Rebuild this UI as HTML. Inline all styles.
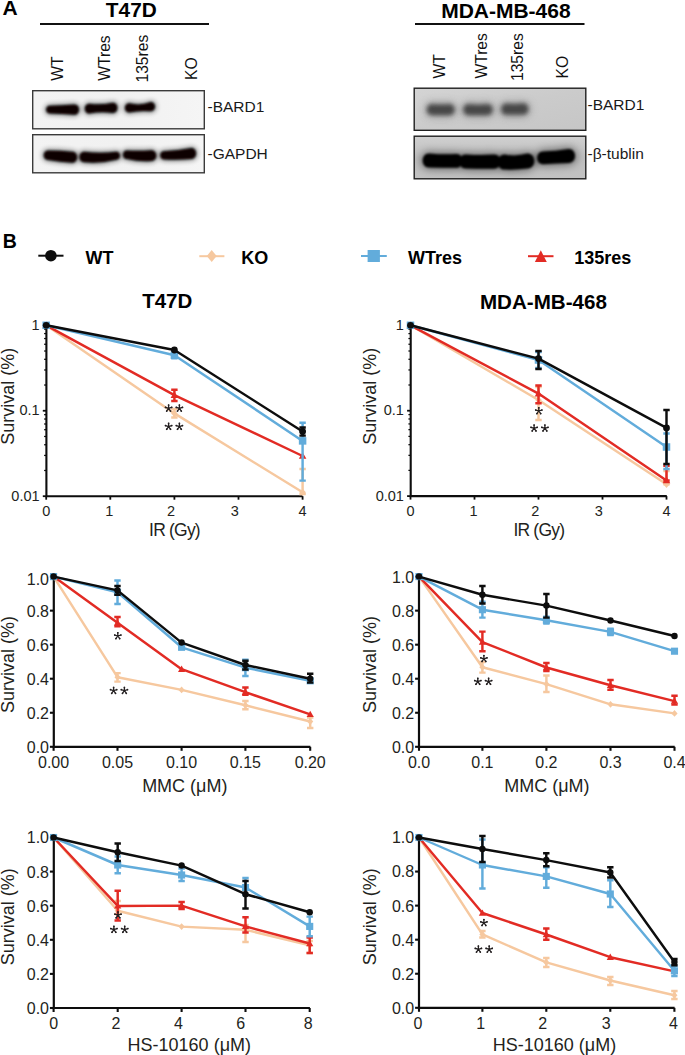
<!DOCTYPE html>
<html><head><meta charset="utf-8"><style>
html,body{margin:0;padding:0;background:#fff;}
body{width:685px;height:1055px;overflow:hidden;}
svg{display:block;font-family:"Liberation Sans",sans-serif;}
</style></head><body>
<svg width="685" height="1055" viewBox="0 0 685 1055">
<rect width="685" height="1055" fill="#fff"/>
<text x="2.5" y="14.7" font-size="21" text-anchor="start" font-weight="bold" fill="#000" >A</text>
<text x="131.3" y="17.3" font-size="20.8" text-anchor="middle" font-weight="bold" fill="#000" >T47D</text>
<line x1="40" y1="24" x2="209" y2="24" stroke="#111" stroke-width="2"/>
<text x="505.9" y="17.5" font-size="21" text-anchor="middle" font-weight="bold" fill="#000" >MDA-MB-468</text>
<line x1="415" y1="24" x2="584.5" y2="24" stroke="#111" stroke-width="2"/>
<text transform="translate(62.8,80.7) rotate(-90)" font-size="15.6" text-anchor="start" font-weight="normal" fill="#111" >WT</text>
<text transform="translate(110.2,80.7) rotate(-90)" font-size="15.6" text-anchor="start" font-weight="normal" fill="#111" >WTres</text>
<text transform="translate(148.4,82.5) rotate(-90)" font-size="15.6" text-anchor="start" font-weight="normal" fill="#111" >135res</text>
<text transform="translate(196.5,80.0) rotate(-90)" font-size="15.6" text-anchor="start" font-weight="normal" fill="#111" >KO</text>
<text transform="translate(444.6,78.5) rotate(-90)" font-size="15.6" text-anchor="start" font-weight="normal" fill="#111" >WT</text>
<text transform="translate(486.7,78.5) rotate(-90)" font-size="15.6" text-anchor="start" font-weight="normal" fill="#111" >WTres</text>
<text transform="translate(522.9,81.0) rotate(-90)" font-size="15.6" text-anchor="start" font-weight="normal" fill="#111" >135res</text>
<text transform="translate(567.7,78.5) rotate(-90)" font-size="15.6" text-anchor="start" font-weight="normal" fill="#111" >KO</text>
<defs>
<filter id="b1" x="-50%" y="-50%" width="200%" height="200%"><feGaussianBlur stdDeviation="1.1"/></filter>
<filter id="b2" x="-50%" y="-50%" width="200%" height="200%"><feGaussianBlur stdDeviation="2.2"/></filter>
<filter id="b3" x="-50%" y="-50%" width="200%" height="200%"><feGaussianBlur stdDeviation="1.6"/></filter>
<linearGradient id="g1" x1="0" y1="0" x2="0" y2="1"><stop offset="0" stop-color="#dcdcdc"/><stop offset="1" stop-color="#d2d2d2"/></linearGradient>
<linearGradient id="g2" x1="0" y1="0" x2="0" y2="1"><stop offset="0" stop-color="#d6d6d6"/><stop offset="1" stop-color="#c6c6c6"/></linearGradient>
<clipPath id="c1"><rect x="33" y="91" width="171" height="37.5"/></clipPath>
<clipPath id="c2"><rect x="33" y="135" width="171" height="37.5"/></clipPath>
<clipPath id="c3"><rect x="414.5" y="88.5" width="171" height="41.5"/></clipPath>
<clipPath id="c4"><rect x="414.5" y="136.5" width="171" height="42"/></clipPath>
</defs>
<defs>
<filter id="h1" x="-50%" y="-100%" width="200%" height="300%"><feGaussianBlur stdDeviation="2.6"/></filter>
<filter id="h2" x="-50%" y="-100%" width="200%" height="300%"><feGaussianBlur stdDeviation="4.2"/></filter>
<filter id="k1" x="-50%" y="-100%" width="200%" height="300%"><feGaussianBlur stdDeviation="0.8"/></filter>
<filter id="k2" x="-50%" y="-100%" width="200%" height="300%"><feGaussianBlur stdDeviation="2.3"/></filter>
<filter id="k3" x="-50%" y="-100%" width="200%" height="300%"><feGaussianBlur stdDeviation="1.0"/></filter>
<linearGradient id="gA" x1="0" y1="0" x2="1" y2="0"><stop offset="0" stop-color="#f3f3f3"/><stop offset="0.5" stop-color="#f1f1f1"/><stop offset="1" stop-color="#f5f5f5"/></linearGradient>
</defs>
<rect x="32.5" y="90.5" width="172" height="38.5" fill="url(#gA)"/>
<g clip-path="url(#c1)">
<g filter="url(#h1)" fill="#070605" opacity="0.45">
<path d="M49.62 105.80 Q62.60 105.30 74.32 104.40 C80.64 104.40 80.64 114.80 74.32 114.80 Q62.60 113.50 49.62 113.40 C45.00 113.40 45.00 105.80 49.62 105.80 Z" stroke="#070605" stroke-width="3"/>
<path d="M89.31 103.80 Q101.15 105.35 112.77 102.70 C119.02 102.70 119.02 113.00 112.77 113.00 Q101.15 111.10 89.31 113.60 C83.36 113.60 83.36 103.80 89.31 103.80 Z" stroke="#070605" stroke-width="3"/>
<path d="M129.14 103.30 Q140.00 106.10 150.86 102.10 C156.45 102.10 156.45 111.30 150.86 111.30 Q140.00 110.10 129.14 112.50 C123.55 112.50 123.55 103.30 129.14 103.30 Z" stroke="#070605" stroke-width="3"/>
</g>
<g filter="url(#k1)" fill="#070605">
<path d="M49.62 105.80 Q62.60 105.30 74.32 104.40 C80.64 104.40 80.64 114.80 74.32 114.80 Q62.60 113.50 49.62 113.40 C45.00 113.40 45.00 105.80 49.62 105.80 Z"/>
<path d="M89.31 103.80 Q101.15 105.35 112.77 102.70 C119.02 102.70 119.02 113.00 112.77 113.00 Q101.15 111.10 89.31 113.60 C83.36 113.60 83.36 103.80 89.31 103.80 Z"/>
<path d="M129.14 103.30 Q140.00 106.10 150.86 102.10 C156.45 102.10 156.45 111.30 150.86 111.30 Q140.00 110.10 129.14 112.50 C123.55 112.50 123.55 103.30 129.14 103.30 Z"/>
</g></g>
<rect x="32.7" y="90.7" width="171.6" height="38.1" fill="none" stroke="#3a3a3a" stroke-width="1.4"/>
<rect x="32.5" y="134.5" width="172" height="38.5" fill="url(#gA)"/>
<g clip-path="url(#c2)">
<g filter="url(#h1)" fill="#070605" opacity="0.45">
<path d="M48.03 150.50 Q60.45 150.50 72.10 151.70 C78.85 151.70 78.85 162.80 72.10 162.80 Q60.45 161.85 48.03 159.90 C42.32 159.90 42.32 150.50 48.03 150.50 Z" stroke="#070605" stroke-width="3"/>
<path d="M84.22 151.70 Q99.70 153.85 116.35 151.80 C121.14 151.80 121.14 159.70 116.35 159.70 Q99.70 163.85 84.22 162.20 C77.85 162.20 77.85 151.70 84.22 151.70 Z" stroke="#070605" stroke-width="3"/>
<path d="M126.92 150.50 Q139.70 151.25 151.44 150.20 C158.00 150.20 158.00 161.00 151.44 161.00 Q139.70 162.00 126.92 159.00 C121.76 159.00 121.76 150.50 126.92 150.50 Z" stroke="#070605" stroke-width="3"/>
<path d="M163.99 151.20 Q178.20 150.75 191.19 148.10 C197.82 148.10 197.82 159.00 191.19 159.00 Q178.20 160.20 163.99 159.40 C159.01 159.40 159.01 151.20 163.99 151.20 Z" stroke="#070605" stroke-width="3"/>
</g>
<g filter="url(#k1)" fill="#070605">
<path d="M48.03 150.50 Q60.45 150.50 72.10 151.70 C78.85 151.70 78.85 162.80 72.10 162.80 Q60.45 161.85 48.03 159.90 C42.32 159.90 42.32 150.50 48.03 150.50 Z"/>
<path d="M84.22 151.70 Q99.70 153.85 116.35 151.80 C121.14 151.80 121.14 159.70 116.35 159.70 Q99.70 163.85 84.22 162.20 C77.85 162.20 77.85 151.70 84.22 151.70 Z"/>
<path d="M126.92 150.50 Q139.70 151.25 151.44 150.20 C158.00 150.20 158.00 161.00 151.44 161.00 Q139.70 162.00 126.92 159.00 C121.76 159.00 121.76 150.50 126.92 150.50 Z"/>
<path d="M163.99 151.20 Q178.20 150.75 191.19 148.10 C197.82 148.10 197.82 159.00 191.19 159.00 Q178.20 160.20 163.99 159.40 C159.01 159.40 159.01 151.20 163.99 151.20 Z"/>
</g></g>
<rect x="32.7" y="134.7" width="171.6" height="38.1" fill="none" stroke="#3a3a3a" stroke-width="1.4"/>
<text x="207.5" y="111.7" font-size="15.5" text-anchor="start" font-weight="normal" fill="#1a1a1a" >-BARD1</text>
<text x="207.5" y="158.6" font-size="15.5" text-anchor="start" font-weight="normal" fill="#1a1a1a" >-GAPDH</text>
<defs>
<linearGradient id="gM1" x1="0" y1="0" x2="1" y2="1"><stop offset="0" stop-color="#d4d4d4"/><stop offset="0.5" stop-color="#cbcbcb"/><stop offset="1" stop-color="#c6c6c6"/></linearGradient>
<linearGradient id="gM2" x1="0" y1="0" x2="0" y2="1"><stop offset="0" stop-color="#d0d0d0"/><stop offset="0.5" stop-color="#bfbfbf"/><stop offset="1" stop-color="#c2c2c2"/></linearGradient>
</defs>
<rect x="414" y="88" width="172" height="42.5" fill="url(#gM1)"/>
<g clip-path="url(#c3)">
<g filter="url(#h2)" fill="#7a7a7a" opacity="0.75">
<path d="M431.81 104.30 Q440.75 105.30 449.69 104.30 C456.19 104.30 456.19 115.00 449.69 115.00 Q440.75 115.00 431.81 115.00 C425.31 115.00 425.31 104.30 431.81 104.30 Z" stroke="#7a7a7a" stroke-width="3"/>
<path d="M468.31 104.30 Q478.00 105.70 487.69 104.30 C494.19 104.30 494.19 115.00 487.69 115.00 Q478.00 115.00 468.31 115.00 C461.81 115.00 461.81 104.30 468.31 104.30 Z" stroke="#7a7a7a" stroke-width="3"/>
<path d="M506.36 103.80 Q514.85 104.70 523.25 103.60 C529.93 103.60 529.93 114.60 523.25 114.60 Q514.85 114.60 506.36 114.60 C499.80 114.60 499.80 103.80 506.36 103.80 Z" stroke="#7a7a7a" stroke-width="3"/>
</g>
<g filter="url(#k2)" fill="#474747">
<path d="M431.81 104.30 Q440.75 105.30 449.69 104.30 C456.19 104.30 456.19 115.00 449.69 115.00 Q440.75 115.00 431.81 115.00 C425.31 115.00 425.31 104.30 431.81 104.30 Z"/>
<path d="M468.31 104.30 Q478.00 105.70 487.69 104.30 C494.19 104.30 494.19 115.00 487.69 115.00 Q478.00 115.00 468.31 115.00 C461.81 115.00 461.81 104.30 468.31 104.30 Z"/>
<path d="M506.36 103.80 Q514.85 104.70 523.25 103.60 C529.93 103.60 529.93 114.60 523.25 114.60 Q514.85 114.60 506.36 114.60 C499.80 114.60 499.80 103.80 506.36 103.80 Z"/>
</g></g>
<rect x="414.2" y="88.2" width="171.6" height="42.1" fill="none" stroke="#202020" stroke-width="1.4"/>
<rect x="414" y="136" width="172" height="43" fill="url(#gM2)"/>
<g clip-path="url(#c4)">
<g filter="url(#h2)" fill="#060505" opacity="0.5">
<path d="M429.10 153.40 Q442.65 154.70 456.29 154.00 C464.67 154.00 464.67 167.80 456.29 167.80 Q442.65 167.60 429.10 167.40 C420.60 167.40 420.60 153.40 429.10 153.40 Z" stroke="#060505" stroke-width="3"/>
<path d="M465.80 154.40 Q480.00 155.50 494.11 154.60 C502.74 154.60 502.74 168.80 494.11 168.80 Q480.00 169.00 465.80 168.40 C457.30 168.40 457.30 154.40 465.80 154.40 Z" stroke="#060505" stroke-width="3"/>
<path d="M504.60 154.40 Q516.00 156.80 527.50 153.60 C536.55 153.60 536.55 168.50 527.50 168.50 Q516.00 170.00 504.60 169.50 C495.42 169.50 495.42 154.40 504.60 154.40 Z" stroke="#060505" stroke-width="3"/>
<path d="M542.97 151.60 Q556.15 151.25 568.75 149.10 C577.19 149.10 577.19 163.00 568.75 163.00 Q556.15 163.60 542.97 164.20 C535.32 164.20 535.32 151.60 542.97 151.60 Z" stroke="#060505" stroke-width="3"/>
</g>
<g filter="url(#k3)" fill="#060505">
<path d="M429.10 153.40 Q442.65 154.70 456.29 154.00 C464.67 154.00 464.67 167.80 456.29 167.80 Q442.65 167.60 429.10 167.40 C420.60 167.40 420.60 153.40 429.10 153.40 Z"/>
<path d="M465.80 154.40 Q480.00 155.50 494.11 154.60 C502.74 154.60 502.74 168.80 494.11 168.80 Q480.00 169.00 465.80 168.40 C457.30 168.40 457.30 154.40 465.80 154.40 Z"/>
<path d="M504.60 154.40 Q516.00 156.80 527.50 153.60 C536.55 153.60 536.55 168.50 527.50 168.50 Q516.00 170.00 504.60 169.50 C495.42 169.50 495.42 154.40 504.60 154.40 Z"/>
<path d="M542.97 151.60 Q556.15 151.25 568.75 149.10 C577.19 149.10 577.19 163.00 568.75 163.00 Q556.15 163.60 542.97 164.20 C535.32 164.20 535.32 151.60 542.97 151.60 Z"/>
</g></g>
<rect x="414.2" y="136.2" width="171.6" height="42.6" fill="none" stroke="#202020" stroke-width="1.4"/>
<text x="587.5" y="110.2" font-size="15.5" text-anchor="start" font-weight="normal" fill="#1a1a1a" >-BARD1</text>
<text x="587.5" y="158.8" font-size="15.5" text-anchor="start" font-weight="normal" fill="#1a1a1a" >-&#946;-tublin</text>
<text x="2.8" y="248.4" font-size="19.5" text-anchor="start" font-weight="bold" fill="#000" >B</text>
<line x1="38.3" y1="255.7" x2="63.5" y2="255.7" stroke="#0d0d0d" stroke-width="2"/>
<circle cx="50.9" cy="255.7" r="5.8" fill="#0d0d0d"/>
<text x="85.4" y="263.8" font-size="18" text-anchor="start" font-weight="bold" fill="#000" >WT</text>
<line x1="199.3" y1="256.2" x2="224.4" y2="256.2" stroke="#f6c89f" stroke-width="2"/>
<path d="M211.7 250 L216.7 256.1 L211.7 262.1 L206.7 256.1 Z" fill="#f6c89f"/>
<text x="241.3" y="263.9" font-size="18" text-anchor="start" font-weight="bold" fill="#000" >KO</text>
<line x1="361" y1="256" x2="386.8" y2="256" stroke="#62acdb" stroke-width="2"/>
<rect x="367.6" y="250" width="12.3" height="12" fill="#62acdb"/>
<text x="408" y="263.9" font-size="18" text-anchor="start" font-weight="bold" fill="#000" >WTres</text>
<line x1="528" y1="256.2" x2="553.5" y2="256.2" stroke="#e22b24" stroke-width="2"/>
<path d="M540.8 250.3 L546.8 262 L534.9 262 Z" fill="#e22b24"/>
<text x="574.3" y="264" font-size="18" text-anchor="start" font-weight="bold" fill="#000" >135res</text>
<text x="167.2" y="307.8" font-size="20.5" text-anchor="middle" font-weight="bold" fill="#000" >T47D</text>
<text x="543.4" y="308.6" font-size="20.6" text-anchor="middle" font-weight="bold" fill="#000" >MDA-MB-468</text>
<line x1="44.1" y1="470.48" x2="46.4" y2="470.48" stroke="#0d0d0d" stroke-width="1.25"/>
<line x1="44.1" y1="455.43" x2="46.4" y2="455.43" stroke="#0d0d0d" stroke-width="1.25"/>
<line x1="44.1" y1="444.75" x2="46.4" y2="444.75" stroke="#0d0d0d" stroke-width="1.25"/>
<line x1="44.1" y1="436.47" x2="46.4" y2="436.47" stroke="#0d0d0d" stroke-width="1.25"/>
<line x1="44.1" y1="429.71" x2="46.4" y2="429.71" stroke="#0d0d0d" stroke-width="1.25"/>
<line x1="44.1" y1="423.99" x2="46.4" y2="423.99" stroke="#0d0d0d" stroke-width="1.25"/>
<line x1="44.1" y1="419.03" x2="46.4" y2="419.03" stroke="#0d0d0d" stroke-width="1.25"/>
<line x1="44.1" y1="414.66" x2="46.4" y2="414.66" stroke="#0d0d0d" stroke-width="1.25"/>
<line x1="44.1" y1="385.03" x2="46.4" y2="385.03" stroke="#0d0d0d" stroke-width="1.25"/>
<line x1="44.1" y1="369.98" x2="46.4" y2="369.98" stroke="#0d0d0d" stroke-width="1.25"/>
<line x1="44.1" y1="359.30" x2="46.4" y2="359.30" stroke="#0d0d0d" stroke-width="1.25"/>
<line x1="44.1" y1="351.02" x2="46.4" y2="351.02" stroke="#0d0d0d" stroke-width="1.25"/>
<line x1="44.1" y1="344.26" x2="46.4" y2="344.26" stroke="#0d0d0d" stroke-width="1.25"/>
<line x1="44.1" y1="338.54" x2="46.4" y2="338.54" stroke="#0d0d0d" stroke-width="1.25"/>
<line x1="44.1" y1="333.58" x2="46.4" y2="333.58" stroke="#0d0d0d" stroke-width="1.25"/>
<line x1="44.1" y1="329.21" x2="46.4" y2="329.21" stroke="#0d0d0d" stroke-width="1.25"/>
<line x1="42.8" y1="325.30" x2="46.4" y2="325.30" stroke="#0d0d0d" stroke-width="1.8"/>
<line x1="42.8" y1="410.75" x2="46.4" y2="410.75" stroke="#0d0d0d" stroke-width="1.8"/>
<line x1="42.8" y1="496.20" x2="46.4" y2="496.20" stroke="#0d0d0d" stroke-width="1.8"/>
<line x1="46.20" y1="496.2" x2="46.20" y2="499.7" stroke="#0d0d0d" stroke-width="1.8"/>
<line x1="110.30" y1="496.2" x2="110.30" y2="499.7" stroke="#0d0d0d" stroke-width="1.8"/>
<line x1="174.40" y1="496.2" x2="174.40" y2="499.7" stroke="#0d0d0d" stroke-width="1.8"/>
<line x1="238.50" y1="496.2" x2="238.50" y2="499.7" stroke="#0d0d0d" stroke-width="1.8"/>
<line x1="302.60" y1="496.2" x2="302.60" y2="499.7" stroke="#0d0d0d" stroke-width="1.8"/>
<path d="M46.4 325.3 V496.2 H302.8" fill="none" stroke="#0d0d0d" stroke-width="2.1"/>
<text x="39.6" y="329.70" font-size="14.5" text-anchor="end" font-weight="normal" fill="#231f20" >1</text>
<text x="39.6" y="415.15" font-size="14.5" text-anchor="end" font-weight="normal" fill="#231f20" >0.1</text>
<text x="39.6" y="500.60" font-size="14.5" text-anchor="end" font-weight="normal" fill="#231f20" >0.01</text>
<text x="46.20" y="516.00" font-size="14.5" text-anchor="middle" font-weight="normal" fill="#231f20" >0</text>
<text x="109.30" y="516.00" font-size="14.5" text-anchor="middle" font-weight="normal" fill="#231f20" >1</text>
<text x="171.10" y="516.00" font-size="14.5" text-anchor="middle" font-weight="normal" fill="#231f20" >2</text>
<text x="234.90" y="516.00" font-size="14.5" text-anchor="middle" font-weight="normal" fill="#231f20" >3</text>
<text x="302.60" y="516.00" font-size="14.5" text-anchor="middle" font-weight="normal" fill="#231f20" >4</text>
<text transform="translate(13.9,396.2) rotate(-90)" font-size="18" text-anchor="middle" font-weight="normal" fill="#231f20" >Survival (%)</text>
<text x="174.5" y="535.6" font-size="17.5" text-anchor="middle" font-weight="normal" fill="#231f20" letter-spacing="-0.8">IR (Gy)</text>
<polyline points="46.20,325.30 174.40,413.40 302.60,492.30" fill="none" stroke="#f6c89f" stroke-width="2.45" stroke-linejoin="round"/>
<path d="M174.40 409.00 V417.50 M171.20 409.00 H177.60 M171.20 417.50 H177.60" stroke="#f6c89f" stroke-width="2.45" fill="none"/>
<path d="M302.60 469.00 V494.00 M299.40 469.00 H305.80 M299.40 494.00 H305.80" stroke="#f6c89f" stroke-width="2.45" fill="none"/>
<path d="M46.20 321.70 L49.44 325.30 L46.20 328.90 L42.96 325.30 Z" fill="#f6c89f"/>
<path d="M174.40 409.80 L177.64 413.40 L174.40 417.00 L171.16 413.40 Z" fill="#f6c89f"/>
<path d="M302.60 488.70 L305.84 492.30 L302.60 495.90 L299.36 492.30 Z" fill="#f6c89f"/>
<polyline points="46.20,325.30 174.40,395.20 302.60,456.00" fill="none" stroke="#e22b24" stroke-width="2.45" stroke-linejoin="round"/>
<path d="M174.40 389.80 V401.00 M171.20 389.80 H177.60 M171.20 401.00 H177.60" stroke="#e22b24" stroke-width="2.45" fill="none"/>
<path d="M46.20 321.50 L50.00 328.15 L42.40 328.15 Z" fill="#e22b24"/>
<path d="M174.40 391.40 L178.20 398.05 L170.60 398.05 Z" fill="#e22b24"/>
<path d="M302.60 452.20 L306.40 458.85 L298.80 458.85 Z" fill="#e22b24"/>
<polyline points="46.20,325.30 174.40,355.20 302.60,440.90" fill="none" stroke="#62acdb" stroke-width="2.45" stroke-linejoin="round"/>
<path d="M174.40 352.50 V358.20 M171.20 352.50 H177.60 M171.20 358.20 H177.60" stroke="#62acdb" stroke-width="2.45" fill="none"/>
<path d="M302.60 422.80 V480.60 M299.40 422.80 H305.80 M299.40 480.60 H305.80" stroke="#62acdb" stroke-width="2.45" fill="none"/>
<rect x="42.45" y="321.55" width="7.50" height="7.50" fill="#62acdb"/>
<rect x="170.65" y="351.45" width="7.50" height="7.50" fill="#62acdb"/>
<rect x="298.85" y="437.15" width="7.50" height="7.50" fill="#62acdb"/>
<polyline points="46.20,325.30 174.40,350.00 302.60,431.50" fill="none" stroke="#0d0d0d" stroke-width="2.45" stroke-linejoin="round"/>
<path d="M302.60 427.40 V435.60 M299.40 427.40 H305.80 M299.40 435.60 H305.80" stroke="#0d0d0d" stroke-width="2.45" fill="none"/>
<circle cx="46.20" cy="325.30" r="3.40" fill="#0d0d0d"/>
<circle cx="174.40" cy="350.00" r="3.40" fill="#0d0d0d"/>
<circle cx="302.60" cy="431.50" r="3.40" fill="#0d0d0d"/>
<path d="M168.60 408.40 L168.60 404.50 M168.60 408.40 L172.31 407.19 M168.60 408.40 L170.89 411.56 M168.60 408.40 L166.31 411.56 M168.60 408.40 L164.89 407.19 " stroke="#231f20" stroke-width="1.25" fill="none"/><g fill="#231f20"><circle cx="168.60" cy="405.20" r="0.85"/><circle cx="171.64" cy="407.41" r="0.85"/><circle cx="170.48" cy="410.99" r="0.85"/><circle cx="166.72" cy="410.99" r="0.85"/><circle cx="165.56" cy="407.41" r="0.85"/></g>
<path d="M179.40 408.40 L179.40 404.50 M179.40 408.40 L183.11 407.19 M179.40 408.40 L181.69 411.56 M179.40 408.40 L177.11 411.56 M179.40 408.40 L175.69 407.19 " stroke="#231f20" stroke-width="1.25" fill="none"/><g fill="#231f20"><circle cx="179.40" cy="405.20" r="0.85"/><circle cx="182.44" cy="407.41" r="0.85"/><circle cx="181.28" cy="410.99" r="0.85"/><circle cx="177.52" cy="410.99" r="0.85"/><circle cx="176.36" cy="407.41" r="0.85"/></g>
<path d="M168.60 426.60 L168.60 422.70 M168.60 426.60 L172.31 425.39 M168.60 426.60 L170.89 429.76 M168.60 426.60 L166.31 429.76 M168.60 426.60 L164.89 425.39 " stroke="#231f20" stroke-width="1.25" fill="none"/><g fill="#231f20"><circle cx="168.60" cy="423.40" r="0.85"/><circle cx="171.64" cy="425.61" r="0.85"/><circle cx="170.48" cy="429.19" r="0.85"/><circle cx="166.72" cy="429.19" r="0.85"/><circle cx="165.56" cy="425.61" r="0.85"/></g>
<path d="M179.40 426.60 L179.40 422.70 M179.40 426.60 L183.11 425.39 M179.40 426.60 L181.69 429.76 M179.40 426.60 L177.11 429.76 M179.40 426.60 L175.69 425.39 " stroke="#231f20" stroke-width="1.25" fill="none"/><g fill="#231f20"><circle cx="179.40" cy="423.40" r="0.85"/><circle cx="182.44" cy="425.61" r="0.85"/><circle cx="181.28" cy="429.19" r="0.85"/><circle cx="177.52" cy="429.19" r="0.85"/><circle cx="176.36" cy="425.61" r="0.85"/></g>
<line x1="408.4" y1="470.39" x2="410.7" y2="470.39" stroke="#0d0d0d" stroke-width="1.25"/>
<line x1="408.4" y1="455.35" x2="410.7" y2="455.35" stroke="#0d0d0d" stroke-width="1.25"/>
<line x1="408.4" y1="444.68" x2="410.7" y2="444.68" stroke="#0d0d0d" stroke-width="1.25"/>
<line x1="408.4" y1="436.41" x2="410.7" y2="436.41" stroke="#0d0d0d" stroke-width="1.25"/>
<line x1="408.4" y1="429.65" x2="410.7" y2="429.65" stroke="#0d0d0d" stroke-width="1.25"/>
<line x1="408.4" y1="423.93" x2="410.7" y2="423.93" stroke="#0d0d0d" stroke-width="1.25"/>
<line x1="408.4" y1="418.98" x2="410.7" y2="418.98" stroke="#0d0d0d" stroke-width="1.25"/>
<line x1="408.4" y1="414.61" x2="410.7" y2="414.61" stroke="#0d0d0d" stroke-width="1.25"/>
<line x1="408.4" y1="384.99" x2="410.7" y2="384.99" stroke="#0d0d0d" stroke-width="1.25"/>
<line x1="408.4" y1="369.95" x2="410.7" y2="369.95" stroke="#0d0d0d" stroke-width="1.25"/>
<line x1="408.4" y1="359.28" x2="410.7" y2="359.28" stroke="#0d0d0d" stroke-width="1.25"/>
<line x1="408.4" y1="351.01" x2="410.7" y2="351.01" stroke="#0d0d0d" stroke-width="1.25"/>
<line x1="408.4" y1="344.25" x2="410.7" y2="344.25" stroke="#0d0d0d" stroke-width="1.25"/>
<line x1="408.4" y1="338.53" x2="410.7" y2="338.53" stroke="#0d0d0d" stroke-width="1.25"/>
<line x1="408.4" y1="333.58" x2="410.7" y2="333.58" stroke="#0d0d0d" stroke-width="1.25"/>
<line x1="408.4" y1="329.21" x2="410.7" y2="329.21" stroke="#0d0d0d" stroke-width="1.25"/>
<line x1="407.09999999999997" y1="325.30" x2="410.7" y2="325.30" stroke="#0d0d0d" stroke-width="1.8"/>
<line x1="407.09999999999997" y1="410.70" x2="410.7" y2="410.70" stroke="#0d0d0d" stroke-width="1.8"/>
<line x1="407.09999999999997" y1="496.10" x2="410.7" y2="496.10" stroke="#0d0d0d" stroke-width="1.8"/>
<line x1="410.50" y1="496.1" x2="410.50" y2="499.6" stroke="#0d0d0d" stroke-width="1.8"/>
<line x1="474.50" y1="496.1" x2="474.50" y2="499.6" stroke="#0d0d0d" stroke-width="1.8"/>
<line x1="538.50" y1="496.1" x2="538.50" y2="499.6" stroke="#0d0d0d" stroke-width="1.8"/>
<line x1="602.50" y1="496.1" x2="602.50" y2="499.6" stroke="#0d0d0d" stroke-width="1.8"/>
<line x1="666.50" y1="496.1" x2="666.50" y2="499.6" stroke="#0d0d0d" stroke-width="1.8"/>
<path d="M410.7 325.3 V496.1 H666.8" fill="none" stroke="#0d0d0d" stroke-width="2.1"/>
<text x="403.9" y="329.70" font-size="14.5" text-anchor="end" font-weight="normal" fill="#231f20" >1</text>
<text x="403.9" y="415.10" font-size="14.5" text-anchor="end" font-weight="normal" fill="#231f20" >0.1</text>
<text x="403.9" y="500.50" font-size="14.5" text-anchor="end" font-weight="normal" fill="#231f20" >0.01</text>
<text x="410.50" y="515.90" font-size="14.5" text-anchor="middle" font-weight="normal" fill="#231f20" >0</text>
<text x="473.50" y="515.90" font-size="14.5" text-anchor="middle" font-weight="normal" fill="#231f20" >1</text>
<text x="535.20" y="515.90" font-size="14.5" text-anchor="middle" font-weight="normal" fill="#231f20" >2</text>
<text x="598.90" y="515.90" font-size="14.5" text-anchor="middle" font-weight="normal" fill="#231f20" >3</text>
<text x="666.50" y="515.90" font-size="14.5" text-anchor="middle" font-weight="normal" fill="#231f20" >4</text>
<text transform="translate(376.2,396.2) rotate(-90)" font-size="18" text-anchor="middle" font-weight="normal" fill="#231f20" >Survival (%)</text>
<text x="538.8" y="535.5" font-size="17.5" text-anchor="middle" font-weight="normal" fill="#231f20" letter-spacing="-0.8">IR (Gy)</text>
<polyline points="410.50,325.30 538.50,400.00 666.50,484.30" fill="none" stroke="#f6c89f" stroke-width="2.45" stroke-linejoin="round"/>
<path d="M538.50 387.00 V420.00 M535.30 387.00 H541.70 M535.30 420.00 H541.70" stroke="#f6c89f" stroke-width="2.45" fill="none"/>
<path d="M666.50 471.00 V484.30 M663.30 471.00 H669.70 M663.30 484.30 H669.70" stroke="#f6c89f" stroke-width="2.45" fill="none"/>
<path d="M410.50 321.70 L413.74 325.30 L410.50 328.90 L407.26 325.30 Z" fill="#f6c89f"/>
<path d="M538.50 396.40 L541.74 400.00 L538.50 403.60 L535.26 400.00 Z" fill="#f6c89f"/>
<path d="M666.50 480.70 L669.74 484.30 L666.50 487.90 L663.26 484.30 Z" fill="#f6c89f"/>
<polyline points="410.50,325.30 538.50,393.60 666.50,480.50" fill="none" stroke="#e22b24" stroke-width="2.45" stroke-linejoin="round"/>
<path d="M538.50 385.50 V403.30 M535.30 385.50 H541.70 M535.30 403.30 H541.70" stroke="#e22b24" stroke-width="2.45" fill="none"/>
<path d="M666.50 465.70 V480.50 M663.30 465.70 H669.70 M663.30 480.50 H669.70" stroke="#e22b24" stroke-width="2.45" fill="none"/>
<path d="M410.50 321.50 L414.30 328.15 L406.70 328.15 Z" fill="#e22b24"/>
<path d="M538.50 389.80 L542.30 396.45 L534.70 396.45 Z" fill="#e22b24"/>
<path d="M666.50 476.70 L670.30 483.35 L662.70 483.35 Z" fill="#e22b24"/>
<polyline points="410.50,325.30 538.50,360.00 666.50,447.00" fill="none" stroke="#62acdb" stroke-width="2.45" stroke-linejoin="round"/>
<path d="M538.50 352.00 V368.00 M535.30 352.00 H541.70 M535.30 368.00 H541.70" stroke="#62acdb" stroke-width="2.45" fill="none"/>
<path d="M666.50 433.40 V469.00 M663.30 433.40 H669.70 M663.30 469.00 H669.70" stroke="#62acdb" stroke-width="2.45" fill="none"/>
<rect x="406.75" y="321.55" width="7.50" height="7.50" fill="#62acdb"/>
<rect x="534.75" y="356.25" width="7.50" height="7.50" fill="#62acdb"/>
<rect x="662.75" y="443.25" width="7.50" height="7.50" fill="#62acdb"/>
<polyline points="410.50,325.30 538.50,358.60 666.50,427.90" fill="none" stroke="#0d0d0d" stroke-width="2.45" stroke-linejoin="round"/>
<path d="M538.50 351.00 V369.00 M535.30 351.00 H541.70 M535.30 369.00 H541.70" stroke="#0d0d0d" stroke-width="2.45" fill="none"/>
<path d="M666.50 410.00 V464.00 M663.30 410.00 H669.70 M663.30 464.00 H669.70" stroke="#0d0d0d" stroke-width="2.45" fill="none"/>
<circle cx="410.50" cy="325.30" r="3.40" fill="#0d0d0d"/>
<circle cx="538.50" cy="358.60" r="3.40" fill="#0d0d0d"/>
<circle cx="666.50" cy="427.90" r="3.40" fill="#0d0d0d"/>
<path d="M538.80 411.00 L538.80 407.10 M538.80 411.00 L542.51 409.79 M538.80 411.00 L541.09 414.16 M538.80 411.00 L536.51 414.16 M538.80 411.00 L535.09 409.79 " stroke="#231f20" stroke-width="1.25" fill="none"/><g fill="#231f20"><circle cx="538.80" cy="407.80" r="0.85"/><circle cx="541.84" cy="410.01" r="0.85"/><circle cx="540.68" cy="413.59" r="0.85"/><circle cx="536.92" cy="413.59" r="0.85"/><circle cx="535.76" cy="410.01" r="0.85"/></g>
<path d="M534.10 428.30 L534.10 424.40 M534.10 428.30 L537.81 427.09 M534.10 428.30 L536.39 431.46 M534.10 428.30 L531.81 431.46 M534.10 428.30 L530.39 427.09 " stroke="#231f20" stroke-width="1.25" fill="none"/><g fill="#231f20"><circle cx="534.10" cy="425.10" r="0.85"/><circle cx="537.14" cy="427.31" r="0.85"/><circle cx="535.98" cy="430.89" r="0.85"/><circle cx="532.22" cy="430.89" r="0.85"/><circle cx="531.06" cy="427.31" r="0.85"/></g>
<path d="M544.90 428.30 L544.90 424.40 M544.90 428.30 L548.61 427.09 M544.90 428.30 L547.19 431.46 M544.90 428.30 L542.61 431.46 M544.90 428.30 L541.19 427.09 " stroke="#231f20" stroke-width="1.25" fill="none"/><g fill="#231f20"><circle cx="544.90" cy="425.10" r="0.85"/><circle cx="547.94" cy="427.31" r="0.85"/><circle cx="546.78" cy="430.89" r="0.85"/><circle cx="543.02" cy="430.89" r="0.85"/><circle cx="541.86" cy="427.31" r="0.85"/></g>
<line x1="49.9" y1="746.80" x2="53.8" y2="746.80" stroke="#0d0d0d" stroke-width="2.1"/>
<text x="49.00" y="752.70" font-size="16" text-anchor="end" font-weight="normal" fill="#231f20" >0.0</text>
<line x1="49.9" y1="712.76" x2="53.8" y2="712.76" stroke="#0d0d0d" stroke-width="2.1"/>
<text x="49.00" y="718.66" font-size="16" text-anchor="end" font-weight="normal" fill="#231f20" >0.2</text>
<line x1="49.9" y1="678.72" x2="53.8" y2="678.72" stroke="#0d0d0d" stroke-width="2.1"/>
<text x="49.00" y="684.62" font-size="16" text-anchor="end" font-weight="normal" fill="#231f20" >0.4</text>
<line x1="49.9" y1="644.68" x2="53.8" y2="644.68" stroke="#0d0d0d" stroke-width="2.1"/>
<text x="49.00" y="650.58" font-size="16" text-anchor="end" font-weight="normal" fill="#231f20" >0.6</text>
<line x1="49.9" y1="610.64" x2="53.8" y2="610.64" stroke="#0d0d0d" stroke-width="2.1"/>
<text x="49.00" y="616.54" font-size="16" text-anchor="end" font-weight="normal" fill="#231f20" >0.8</text>
<line x1="49.9" y1="576.60" x2="53.8" y2="576.60" stroke="#0d0d0d" stroke-width="2.1"/>
<text x="49.00" y="585.10" font-size="16" text-anchor="end" font-weight="normal" fill="#231f20" >1.0</text>
<line x1="53.60" y1="746.8" x2="53.60" y2="750.8" stroke="#0d0d0d" stroke-width="2.1"/>
<line x1="117.50" y1="746.8" x2="117.50" y2="750.8" stroke="#0d0d0d" stroke-width="2.1"/>
<line x1="181.60" y1="746.8" x2="181.60" y2="750.8" stroke="#0d0d0d" stroke-width="2.1"/>
<line x1="245.40" y1="746.8" x2="245.40" y2="750.8" stroke="#0d0d0d" stroke-width="2.1"/>
<line x1="310.20" y1="746.8" x2="310.20" y2="750.8" stroke="#0d0d0d" stroke-width="2.1"/>
<path d="M53.8 576.6 V746.8 H310.4" fill="none" stroke="#0d0d0d" stroke-width="2.2"/>
<text x="53.60" y="768.20" font-size="16" text-anchor="middle" font-weight="normal" fill="#231f20" >0.00</text>
<text x="117.50" y="768.20" font-size="16" text-anchor="middle" font-weight="normal" fill="#231f20" >0.05</text>
<text x="181.60" y="768.20" font-size="16" text-anchor="middle" font-weight="normal" fill="#231f20" >0.10</text>
<text x="245.40" y="768.20" font-size="16" text-anchor="middle" font-weight="normal" fill="#231f20" >0.15</text>
<text x="310.20" y="768.20" font-size="16" text-anchor="middle" font-weight="normal" fill="#231f20" >0.20</text>
<text transform="translate(13.9,664.5) rotate(-90)" font-size="18" text-anchor="middle" font-weight="normal" fill="#231f20" >Survival (%)</text>
<text x="184.8" y="792.3" font-size="18" text-anchor="middle" font-weight="normal" fill="#231f20" >MMC (&#956;M)</text>
<polyline points="53.60,576.60 117.50,677.20 181.60,689.90 245.40,705.30 310.20,721.50" fill="none" stroke="#f6c89f" stroke-width="2.45" stroke-linejoin="round"/>
<path d="M117.50 673.10 V681.60 M114.30 673.10 H120.70 M114.30 681.60 H120.70" stroke="#f6c89f" stroke-width="2.45" fill="none"/>
<path d="M245.40 701.00 V709.20 M242.20 701.00 H248.60 M242.20 709.20 H248.60" stroke="#f6c89f" stroke-width="2.45" fill="none"/>
<path d="M310.20 717.60 V728.00 M307.00 717.60 H313.40 M307.00 728.00 H313.40" stroke="#f6c89f" stroke-width="2.45" fill="none"/>
<path d="M53.60 573.18 L56.68 576.60 L53.60 580.02 L50.52 576.60 Z" fill="#f6c89f"/>
<path d="M117.50 673.78 L120.58 677.20 L117.50 680.62 L114.42 677.20 Z" fill="#f6c89f"/>
<path d="M181.60 686.48 L184.68 689.90 L181.60 693.32 L178.52 689.90 Z" fill="#f6c89f"/>
<path d="M245.40 701.88 L248.48 705.30 L245.40 708.72 L242.32 705.30 Z" fill="#f6c89f"/>
<path d="M310.20 718.08 L313.28 721.50 L310.20 724.92 L307.12 721.50 Z" fill="#f6c89f"/>
<polyline points="53.60,576.60 117.50,622.80 181.60,669.20 245.40,692.20 310.20,714.40" fill="none" stroke="#e22b24" stroke-width="2.45" stroke-linejoin="round"/>
<path d="M117.50 617.00 V626.30 M114.30 617.00 H120.70 M114.30 626.30 H120.70" stroke="#e22b24" stroke-width="2.45" fill="none"/>
<path d="M245.40 687.50 V694.80 M242.20 687.50 H248.60 M242.20 694.80 H248.60" stroke="#e22b24" stroke-width="2.45" fill="none"/>
<path d="M53.60 572.99 L57.21 579.31 L49.99 579.31 Z" fill="#e22b24"/>
<path d="M117.50 619.19 L121.11 625.51 L113.89 625.51 Z" fill="#e22b24"/>
<path d="M181.60 665.59 L185.21 671.91 L177.99 671.91 Z" fill="#e22b24"/>
<path d="M245.40 688.59 L249.01 694.91 L241.79 694.91 Z" fill="#e22b24"/>
<path d="M310.20 710.79 L313.81 717.11 L306.59 717.11 Z" fill="#e22b24"/>
<polyline points="53.60,576.60 117.50,592.20 181.60,647.30 245.40,667.70 310.20,680.80" fill="none" stroke="#62acdb" stroke-width="2.45" stroke-linejoin="round"/>
<path d="M117.50 580.40 V603.90 M114.30 580.40 H120.70 M114.30 603.90 H120.70" stroke="#62acdb" stroke-width="2.45" fill="none"/>
<path d="M245.40 659.80 V675.90 M242.20 659.80 H248.60 M242.20 675.90 H248.60" stroke="#62acdb" stroke-width="2.45" fill="none"/>
<rect x="50.04" y="573.04" width="7.12" height="7.12" fill="#62acdb"/>
<rect x="113.94" y="588.64" width="7.12" height="7.12" fill="#62acdb"/>
<rect x="178.04" y="643.74" width="7.12" height="7.12" fill="#62acdb"/>
<rect x="241.84" y="664.14" width="7.12" height="7.12" fill="#62acdb"/>
<rect x="306.64" y="677.24" width="7.12" height="7.12" fill="#62acdb"/>
<polyline points="53.60,576.60 117.50,590.40 181.60,642.60 245.40,665.00 310.20,678.70" fill="none" stroke="#0d0d0d" stroke-width="2.45" stroke-linejoin="round"/>
<path d="M117.50 586.00 V594.80 M114.30 586.00 H120.70 M114.30 594.80 H120.70" stroke="#0d0d0d" stroke-width="2.45" fill="none"/>
<path d="M245.40 660.70 V669.40 M242.20 660.70 H248.60 M242.20 669.40 H248.60" stroke="#0d0d0d" stroke-width="2.45" fill="none"/>
<path d="M310.20 673.80 V682.60 M307.00 673.80 H313.40 M307.00 682.60 H313.40" stroke="#0d0d0d" stroke-width="2.45" fill="none"/>
<circle cx="53.60" cy="576.60" r="3.23" fill="#0d0d0d"/>
<circle cx="117.50" cy="590.40" r="3.23" fill="#0d0d0d"/>
<circle cx="181.60" cy="642.60" r="3.23" fill="#0d0d0d"/>
<circle cx="245.40" cy="665.00" r="3.23" fill="#0d0d0d"/>
<circle cx="310.20" cy="678.70" r="3.23" fill="#0d0d0d"/>
<path d="M117.80 636.00 L117.80 632.10 M117.80 636.00 L121.51 634.79 M117.80 636.00 L120.09 639.16 M117.80 636.00 L115.51 639.16 M117.80 636.00 L114.09 634.79 " stroke="#231f20" stroke-width="1.25" fill="none"/><g fill="#231f20"><circle cx="117.80" cy="632.80" r="0.85"/><circle cx="120.84" cy="635.01" r="0.85"/><circle cx="119.68" cy="638.59" r="0.85"/><circle cx="115.92" cy="638.59" r="0.85"/><circle cx="114.76" cy="635.01" r="0.85"/></g>
<path d="M113.60 690.70 L113.60 686.80 M113.60 690.70 L117.31 689.49 M113.60 690.70 L115.89 693.86 M113.60 690.70 L111.31 693.86 M113.60 690.70 L109.89 689.49 " stroke="#231f20" stroke-width="1.25" fill="none"/><g fill="#231f20"><circle cx="113.60" cy="687.50" r="0.85"/><circle cx="116.64" cy="689.71" r="0.85"/><circle cx="115.48" cy="693.29" r="0.85"/><circle cx="111.72" cy="693.29" r="0.85"/><circle cx="110.56" cy="689.71" r="0.85"/></g>
<path d="M124.40 690.70 L124.40 686.80 M124.40 690.70 L128.11 689.49 M124.40 690.70 L126.69 693.86 M124.40 690.70 L122.11 693.86 M124.40 690.70 L120.69 689.49 " stroke="#231f20" stroke-width="1.25" fill="none"/><g fill="#231f20"><circle cx="124.40" cy="687.50" r="0.85"/><circle cx="127.44" cy="689.71" r="0.85"/><circle cx="126.28" cy="693.29" r="0.85"/><circle cx="122.52" cy="693.29" r="0.85"/><circle cx="121.36" cy="689.71" r="0.85"/></g>
<line x1="415.1" y1="746.80" x2="419" y2="746.80" stroke="#0d0d0d" stroke-width="2.1"/>
<text x="414.20" y="752.70" font-size="16" text-anchor="end" font-weight="normal" fill="#231f20" >0.0</text>
<line x1="415.1" y1="712.76" x2="419" y2="712.76" stroke="#0d0d0d" stroke-width="2.1"/>
<text x="414.20" y="718.66" font-size="16" text-anchor="end" font-weight="normal" fill="#231f20" >0.2</text>
<line x1="415.1" y1="678.72" x2="419" y2="678.72" stroke="#0d0d0d" stroke-width="2.1"/>
<text x="414.20" y="684.62" font-size="16" text-anchor="end" font-weight="normal" fill="#231f20" >0.4</text>
<line x1="415.1" y1="644.68" x2="419" y2="644.68" stroke="#0d0d0d" stroke-width="2.1"/>
<text x="414.20" y="650.58" font-size="16" text-anchor="end" font-weight="normal" fill="#231f20" >0.6</text>
<line x1="415.1" y1="610.64" x2="419" y2="610.64" stroke="#0d0d0d" stroke-width="2.1"/>
<text x="414.20" y="616.54" font-size="16" text-anchor="end" font-weight="normal" fill="#231f20" >0.8</text>
<line x1="415.1" y1="576.60" x2="419" y2="576.60" stroke="#0d0d0d" stroke-width="2.1"/>
<text x="414.20" y="582.50" font-size="16" text-anchor="end" font-weight="normal" fill="#231f20" >1.0</text>
<line x1="419.00" y1="746.8" x2="419.00" y2="750.8" stroke="#0d0d0d" stroke-width="2.1"/>
<line x1="482.40" y1="746.8" x2="482.40" y2="750.8" stroke="#0d0d0d" stroke-width="2.1"/>
<line x1="546.40" y1="746.8" x2="546.40" y2="750.8" stroke="#0d0d0d" stroke-width="2.1"/>
<line x1="610.50" y1="746.8" x2="610.50" y2="750.8" stroke="#0d0d0d" stroke-width="2.1"/>
<line x1="674.50" y1="746.8" x2="674.50" y2="750.8" stroke="#0d0d0d" stroke-width="2.1"/>
<path d="M419 576.6 V746.8 H674.7" fill="none" stroke="#0d0d0d" stroke-width="2.2"/>
<text x="419.00" y="768.20" font-size="16" text-anchor="middle" font-weight="normal" fill="#231f20" >0.0</text>
<text x="482.40" y="768.20" font-size="16" text-anchor="middle" font-weight="normal" fill="#231f20" >0.1</text>
<text x="546.40" y="768.20" font-size="16" text-anchor="middle" font-weight="normal" fill="#231f20" >0.2</text>
<text x="610.50" y="768.20" font-size="16" text-anchor="middle" font-weight="normal" fill="#231f20" >0.3</text>
<text x="674.50" y="768.20" font-size="16" text-anchor="middle" font-weight="normal" fill="#231f20" >0.4</text>
<text transform="translate(376.2,664.5) rotate(-90)" font-size="18" text-anchor="middle" font-weight="normal" fill="#231f20" >Survival (%)</text>
<text x="546.9" y="792.3" font-size="18" text-anchor="middle" font-weight="normal" fill="#231f20" >MMC (&#956;M)</text>
<polyline points="419.00,576.60 482.40,667.20 546.40,684.10 610.50,704.30 674.50,713.40" fill="none" stroke="#f6c89f" stroke-width="2.45" stroke-linejoin="round"/>
<path d="M482.40 662.00 V672.60 M479.20 662.00 H485.60 M479.20 672.60 H485.60" stroke="#f6c89f" stroke-width="2.45" fill="none"/>
<path d="M546.40 675.40 V692.00 M543.20 675.40 H549.60 M543.20 692.00 H549.60" stroke="#f6c89f" stroke-width="2.45" fill="none"/>
<path d="M419.00 573.18 L422.08 576.60 L419.00 580.02 L415.92 576.60 Z" fill="#f6c89f"/>
<path d="M482.40 663.78 L485.48 667.20 L482.40 670.62 L479.32 667.20 Z" fill="#f6c89f"/>
<path d="M546.40 680.68 L549.48 684.10 L546.40 687.52 L543.32 684.10 Z" fill="#f6c89f"/>
<path d="M610.50 700.88 L613.58 704.30 L610.50 707.72 L607.42 704.30 Z" fill="#f6c89f"/>
<path d="M674.50 709.98 L677.58 713.40 L674.50 716.82 L671.42 713.40 Z" fill="#f6c89f"/>
<polyline points="419.00,576.60 482.40,642.10 546.40,667.50 610.50,685.30 674.50,701.10" fill="none" stroke="#e22b24" stroke-width="2.45" stroke-linejoin="round"/>
<path d="M482.40 631.60 V651.20 M479.20 631.60 H485.60 M479.20 651.20 H485.60" stroke="#e22b24" stroke-width="2.45" fill="none"/>
<path d="M546.40 663.00 V671.00 M543.20 663.00 H549.60 M543.20 671.00 H549.60" stroke="#e22b24" stroke-width="2.45" fill="none"/>
<path d="M610.50 680.00 V689.70 M607.30 680.00 H613.70 M607.30 689.70 H613.70" stroke="#e22b24" stroke-width="2.45" fill="none"/>
<path d="M674.50 695.80 V704.60 M671.30 695.80 H677.70 M671.30 704.60 H677.70" stroke="#e22b24" stroke-width="2.45" fill="none"/>
<path d="M419.00 572.99 L422.61 579.31 L415.39 579.31 Z" fill="#e22b24"/>
<path d="M482.40 638.49 L486.01 644.81 L478.79 644.81 Z" fill="#e22b24"/>
<path d="M546.40 663.89 L550.01 670.21 L542.79 670.21 Z" fill="#e22b24"/>
<path d="M610.50 681.69 L614.11 688.01 L606.89 688.01 Z" fill="#e22b24"/>
<path d="M674.50 697.49 L678.11 703.81 L670.89 703.81 Z" fill="#e22b24"/>
<polyline points="419.00,576.60 482.40,609.70 546.40,620.20 610.50,631.90 674.50,651.20" fill="none" stroke="#62acdb" stroke-width="2.45" stroke-linejoin="round"/>
<path d="M482.40 601.80 V617.60 M479.20 601.80 H485.60 M479.20 617.60 H485.60" stroke="#62acdb" stroke-width="2.45" fill="none"/>
<path d="M546.40 616.80 V623.60 M543.20 616.80 H549.60 M543.20 623.60 H549.60" stroke="#62acdb" stroke-width="2.45" fill="none"/>
<path d="M610.50 628.80 V635.00 M607.30 628.80 H613.70 M607.30 635.00 H613.70" stroke="#62acdb" stroke-width="2.45" fill="none"/>
<rect x="415.44" y="573.04" width="7.12" height="7.12" fill="#62acdb"/>
<rect x="478.84" y="606.14" width="7.12" height="7.12" fill="#62acdb"/>
<rect x="542.84" y="616.64" width="7.12" height="7.12" fill="#62acdb"/>
<rect x="606.94" y="628.34" width="7.12" height="7.12" fill="#62acdb"/>
<rect x="670.94" y="647.64" width="7.12" height="7.12" fill="#62acdb"/>
<polyline points="419.00,576.60 482.40,594.80 546.40,605.60 610.50,620.50 674.50,636.00" fill="none" stroke="#0d0d0d" stroke-width="2.45" stroke-linejoin="round"/>
<path d="M482.40 586.00 V603.50 M479.20 586.00 H485.60 M479.20 603.50 H485.60" stroke="#0d0d0d" stroke-width="2.45" fill="none"/>
<path d="M546.40 594.00 V617.60 M543.20 594.00 H549.60 M543.20 617.60 H549.60" stroke="#0d0d0d" stroke-width="2.45" fill="none"/>
<circle cx="419.00" cy="576.60" r="3.23" fill="#0d0d0d"/>
<circle cx="482.40" cy="594.80" r="3.23" fill="#0d0d0d"/>
<circle cx="546.40" cy="605.60" r="3.23" fill="#0d0d0d"/>
<circle cx="610.50" cy="620.50" r="3.23" fill="#0d0d0d"/>
<circle cx="674.50" cy="636.00" r="3.23" fill="#0d0d0d"/>
<path d="M483.90 658.80 L483.90 654.90 M483.90 658.80 L487.61 657.59 M483.90 658.80 L486.19 661.96 M483.90 658.80 L481.61 661.96 M483.90 658.80 L480.19 657.59 " stroke="#231f20" stroke-width="1.25" fill="none"/><g fill="#231f20"><circle cx="483.90" cy="655.60" r="0.85"/><circle cx="486.94" cy="657.81" r="0.85"/><circle cx="485.78" cy="661.39" r="0.85"/><circle cx="482.02" cy="661.39" r="0.85"/><circle cx="480.86" cy="657.81" r="0.85"/></g>
<path d="M477.80 681.60 L477.80 677.70 M477.80 681.60 L481.51 680.39 M477.80 681.60 L480.09 684.76 M477.80 681.60 L475.51 684.76 M477.80 681.60 L474.09 680.39 " stroke="#231f20" stroke-width="1.25" fill="none"/><g fill="#231f20"><circle cx="477.80" cy="678.40" r="0.85"/><circle cx="480.84" cy="680.61" r="0.85"/><circle cx="479.68" cy="684.19" r="0.85"/><circle cx="475.92" cy="684.19" r="0.85"/><circle cx="474.76" cy="680.61" r="0.85"/></g>
<path d="M488.60 681.60 L488.60 677.70 M488.60 681.60 L492.31 680.39 M488.60 681.60 L490.89 684.76 M488.60 681.60 L486.31 684.76 M488.60 681.60 L484.89 680.39 " stroke="#231f20" stroke-width="1.25" fill="none"/><g fill="#231f20"><circle cx="488.60" cy="678.40" r="0.85"/><circle cx="491.64" cy="680.61" r="0.85"/><circle cx="490.48" cy="684.19" r="0.85"/><circle cx="486.72" cy="684.19" r="0.85"/><circle cx="485.56" cy="680.61" r="0.85"/></g>
<line x1="49.9" y1="1008.00" x2="53.8" y2="1008.00" stroke="#0d0d0d" stroke-width="2.1"/>
<text x="49.00" y="1013.90" font-size="16" text-anchor="end" font-weight="normal" fill="#231f20" >0.0</text>
<line x1="49.9" y1="973.90" x2="53.8" y2="973.90" stroke="#0d0d0d" stroke-width="2.1"/>
<text x="49.00" y="979.80" font-size="16" text-anchor="end" font-weight="normal" fill="#231f20" >0.2</text>
<line x1="49.9" y1="939.80" x2="53.8" y2="939.80" stroke="#0d0d0d" stroke-width="2.1"/>
<text x="49.00" y="945.70" font-size="16" text-anchor="end" font-weight="normal" fill="#231f20" >0.4</text>
<line x1="49.9" y1="905.70" x2="53.8" y2="905.70" stroke="#0d0d0d" stroke-width="2.1"/>
<text x="49.00" y="911.60" font-size="16" text-anchor="end" font-weight="normal" fill="#231f20" >0.6</text>
<line x1="49.9" y1="871.60" x2="53.8" y2="871.60" stroke="#0d0d0d" stroke-width="2.1"/>
<text x="49.00" y="877.50" font-size="16" text-anchor="end" font-weight="normal" fill="#231f20" >0.8</text>
<line x1="49.9" y1="837.50" x2="53.8" y2="837.50" stroke="#0d0d0d" stroke-width="2.1"/>
<text x="49.00" y="843.40" font-size="16" text-anchor="end" font-weight="normal" fill="#231f20" >1.0</text>
<line x1="53.60" y1="1008.0" x2="53.60" y2="1012.0" stroke="#0d0d0d" stroke-width="2.1"/>
<line x1="117.70" y1="1008.0" x2="117.70" y2="1012.0" stroke="#0d0d0d" stroke-width="2.1"/>
<line x1="181.60" y1="1008.0" x2="181.60" y2="1012.0" stroke="#0d0d0d" stroke-width="2.1"/>
<line x1="245.50" y1="1008.0" x2="245.50" y2="1012.0" stroke="#0d0d0d" stroke-width="2.1"/>
<line x1="309.70" y1="1008.0" x2="309.70" y2="1012.0" stroke="#0d0d0d" stroke-width="2.1"/>
<path d="M53.8 837.5 V1008.0 H309.9" fill="none" stroke="#0d0d0d" stroke-width="2.2"/>
<text x="53.60" y="1029.40" font-size="16" text-anchor="middle" font-weight="normal" fill="#231f20" >0</text>
<text x="116.00" y="1029.40" font-size="16" text-anchor="middle" font-weight="normal" fill="#231f20" >2</text>
<text x="178.40" y="1029.40" font-size="16" text-anchor="middle" font-weight="normal" fill="#231f20" >4</text>
<text x="240.70" y="1029.40" font-size="16" text-anchor="middle" font-weight="normal" fill="#231f20" >6</text>
<text x="308.10" y="1029.40" font-size="16" text-anchor="middle" font-weight="normal" fill="#231f20" >8</text>
<text transform="translate(13.9,916.8) rotate(-90)" font-size="18" text-anchor="middle" font-weight="normal" fill="#231f20" >Survival (%)</text>
<text x="189.3" y="1050.8" font-size="18" text-anchor="middle" font-weight="normal" fill="#231f20" >HS-10160 (&#956;M)</text>
<polyline points="53.60,837.50 117.70,910.80 181.60,926.60 245.50,929.80 309.70,945.40" fill="none" stroke="#f6c89f" stroke-width="2.45" stroke-linejoin="round"/>
<path d="M117.70 901.00 V914.00 M114.50 901.00 H120.90 M114.50 914.00 H120.90" stroke="#f6c89f" stroke-width="2.45" fill="none"/>
<path d="M245.50 925.00 V942.00 M242.30 925.00 H248.70 M242.30 942.00 H248.70" stroke="#f6c89f" stroke-width="2.45" fill="none"/>
<path d="M309.70 941.00 V953.00 M306.50 941.00 H312.90 M306.50 953.00 H312.90" stroke="#f6c89f" stroke-width="2.45" fill="none"/>
<path d="M53.60 834.08 L56.68 837.50 L53.60 840.92 L50.52 837.50 Z" fill="#f6c89f"/>
<path d="M117.70 907.38 L120.78 910.80 L117.70 914.22 L114.62 910.80 Z" fill="#f6c89f"/>
<path d="M181.60 923.18 L184.68 926.60 L181.60 930.02 L178.52 926.60 Z" fill="#f6c89f"/>
<path d="M245.50 926.38 L248.58 929.80 L245.50 933.22 L242.42 929.80 Z" fill="#f6c89f"/>
<path d="M309.70 941.98 L312.78 945.40 L309.70 948.82 L306.62 945.40 Z" fill="#f6c89f"/>
<polyline points="53.60,837.50 117.70,905.90 181.60,905.60 245.50,926.40 309.70,943.50" fill="none" stroke="#e22b24" stroke-width="2.45" stroke-linejoin="round"/>
<path d="M117.70 890.70 V920.50 M114.50 890.70 H120.90 M114.50 920.50 H120.90" stroke="#e22b24" stroke-width="2.45" fill="none"/>
<path d="M181.60 902.00 V909.00 M178.40 902.00 H184.80 M178.40 909.00 H184.80" stroke="#e22b24" stroke-width="2.45" fill="none"/>
<path d="M245.50 917.30 V932.50 M242.30 917.30 H248.70 M242.30 932.50 H248.70" stroke="#e22b24" stroke-width="2.45" fill="none"/>
<path d="M309.70 937.40 V953.00 M306.50 937.40 H312.90 M306.50 953.00 H312.90" stroke="#e22b24" stroke-width="2.45" fill="none"/>
<path d="M53.60 833.89 L57.21 840.21 L49.99 840.21 Z" fill="#e22b24"/>
<path d="M117.70 902.29 L121.31 908.61 L114.09 908.61 Z" fill="#e22b24"/>
<path d="M181.60 901.99 L185.21 908.31 L177.99 908.31 Z" fill="#e22b24"/>
<path d="M245.50 922.79 L249.11 929.11 L241.89 929.11 Z" fill="#e22b24"/>
<path d="M309.70 939.89 L313.31 946.21 L306.09 946.21 Z" fill="#e22b24"/>
<polyline points="53.60,837.50 117.70,865.00 181.60,875.00 245.50,887.50 309.70,926.40" fill="none" stroke="#62acdb" stroke-width="2.45" stroke-linejoin="round"/>
<path d="M117.70 856.50 V873.20 M114.50 856.50 H120.90 M114.50 873.20 H120.90" stroke="#62acdb" stroke-width="2.45" fill="none"/>
<path d="M181.60 868.40 V881.00 M178.40 868.40 H184.80 M178.40 881.00 H184.80" stroke="#62acdb" stroke-width="2.45" fill="none"/>
<path d="M245.50 878.00 V895.00 M242.30 878.00 H248.70 M242.30 895.00 H248.70" stroke="#62acdb" stroke-width="2.45" fill="none"/>
<path d="M309.70 916.60 V936.30 M306.50 916.60 H312.90 M306.50 936.30 H312.90" stroke="#62acdb" stroke-width="2.45" fill="none"/>
<rect x="50.04" y="833.94" width="7.12" height="7.12" fill="#62acdb"/>
<rect x="114.14" y="861.44" width="7.12" height="7.12" fill="#62acdb"/>
<rect x="178.04" y="871.44" width="7.12" height="7.12" fill="#62acdb"/>
<rect x="241.94" y="883.94" width="7.12" height="7.12" fill="#62acdb"/>
<rect x="306.14" y="922.84" width="7.12" height="7.12" fill="#62acdb"/>
<polyline points="53.60,837.50 117.70,852.20 181.60,865.60 245.50,894.20 309.70,912.20" fill="none" stroke="#0d0d0d" stroke-width="2.45" stroke-linejoin="round"/>
<path d="M117.70 843.40 V860.90 M114.50 843.40 H120.90 M114.50 860.90 H120.90" stroke="#0d0d0d" stroke-width="2.45" fill="none"/>
<path d="M245.50 880.90 V908.40 M242.30 880.90 H248.70 M242.30 908.40 H248.70" stroke="#0d0d0d" stroke-width="2.45" fill="none"/>
<circle cx="53.60" cy="837.50" r="3.23" fill="#0d0d0d"/>
<circle cx="117.70" cy="852.20" r="3.23" fill="#0d0d0d"/>
<circle cx="181.60" cy="865.60" r="3.23" fill="#0d0d0d"/>
<circle cx="245.50" cy="894.20" r="3.23" fill="#0d0d0d"/>
<circle cx="309.70" cy="912.20" r="3.23" fill="#0d0d0d"/>
<path d="M118.00 915.20 L118.00 911.30 M118.00 915.20 L121.71 913.99 M118.00 915.20 L120.29 918.36 M118.00 915.20 L115.71 918.36 M118.00 915.20 L114.29 913.99 " stroke="#231f20" stroke-width="1.25" fill="none"/><g fill="#231f20"><circle cx="118.00" cy="912.00" r="0.85"/><circle cx="121.04" cy="914.21" r="0.85"/><circle cx="119.88" cy="917.79" r="0.85"/><circle cx="116.12" cy="917.79" r="0.85"/><circle cx="114.96" cy="914.21" r="0.85"/></g>
<path d="M113.90 929.60 L113.90 925.70 M113.90 929.60 L117.61 928.39 M113.90 929.60 L116.19 932.76 M113.90 929.60 L111.61 932.76 M113.90 929.60 L110.19 928.39 " stroke="#231f20" stroke-width="1.25" fill="none"/><g fill="#231f20"><circle cx="113.90" cy="926.40" r="0.85"/><circle cx="116.94" cy="928.61" r="0.85"/><circle cx="115.78" cy="932.19" r="0.85"/><circle cx="112.02" cy="932.19" r="0.85"/><circle cx="110.86" cy="928.61" r="0.85"/></g>
<path d="M124.70 929.60 L124.70 925.70 M124.70 929.60 L128.41 928.39 M124.70 929.60 L126.99 932.76 M124.70 929.60 L122.41 932.76 M124.70 929.60 L120.99 928.39 " stroke="#231f20" stroke-width="1.25" fill="none"/><g fill="#231f20"><circle cx="124.70" cy="926.40" r="0.85"/><circle cx="127.74" cy="928.61" r="0.85"/><circle cx="126.58" cy="932.19" r="0.85"/><circle cx="122.82" cy="932.19" r="0.85"/><circle cx="121.66" cy="928.61" r="0.85"/></g>
<line x1="415.1" y1="1007.80" x2="419" y2="1007.80" stroke="#0d0d0d" stroke-width="2.1"/>
<text x="414.20" y="1013.70" font-size="16" text-anchor="end" font-weight="normal" fill="#231f20" >0.0</text>
<line x1="415.1" y1="973.74" x2="419" y2="973.74" stroke="#0d0d0d" stroke-width="2.1"/>
<text x="414.20" y="979.64" font-size="16" text-anchor="end" font-weight="normal" fill="#231f20" >0.2</text>
<line x1="415.1" y1="939.68" x2="419" y2="939.68" stroke="#0d0d0d" stroke-width="2.1"/>
<text x="414.20" y="945.58" font-size="16" text-anchor="end" font-weight="normal" fill="#231f20" >0.4</text>
<line x1="415.1" y1="905.62" x2="419" y2="905.62" stroke="#0d0d0d" stroke-width="2.1"/>
<text x="414.20" y="911.52" font-size="16" text-anchor="end" font-weight="normal" fill="#231f20" >0.6</text>
<line x1="415.1" y1="871.56" x2="419" y2="871.56" stroke="#0d0d0d" stroke-width="2.1"/>
<text x="414.20" y="877.46" font-size="16" text-anchor="end" font-weight="normal" fill="#231f20" >0.8</text>
<line x1="415.1" y1="837.50" x2="419" y2="837.50" stroke="#0d0d0d" stroke-width="2.1"/>
<text x="414.20" y="843.40" font-size="16" text-anchor="end" font-weight="normal" fill="#231f20" >1.0</text>
<line x1="419.00" y1="1007.8" x2="419.00" y2="1011.8" stroke="#0d0d0d" stroke-width="2.1"/>
<line x1="482.40" y1="1007.8" x2="482.40" y2="1011.8" stroke="#0d0d0d" stroke-width="2.1"/>
<line x1="546.30" y1="1007.8" x2="546.30" y2="1011.8" stroke="#0d0d0d" stroke-width="2.1"/>
<line x1="610.30" y1="1007.8" x2="610.30" y2="1011.8" stroke="#0d0d0d" stroke-width="2.1"/>
<line x1="674.40" y1="1007.8" x2="674.40" y2="1011.8" stroke="#0d0d0d" stroke-width="2.1"/>
<path d="M419 837.5 V1007.8 H674.6" fill="none" stroke="#0d0d0d" stroke-width="2.2"/>
<text x="418.00" y="1029.20" font-size="16" text-anchor="middle" font-weight="normal" fill="#231f20" >0</text>
<text x="480.60" y="1029.20" font-size="16" text-anchor="middle" font-weight="normal" fill="#231f20" >1</text>
<text x="542.70" y="1029.20" font-size="16" text-anchor="middle" font-weight="normal" fill="#231f20" >2</text>
<text x="606.30" y="1029.20" font-size="16" text-anchor="middle" font-weight="normal" fill="#231f20" >3</text>
<text x="673.40" y="1029.20" font-size="16" text-anchor="middle" font-weight="normal" fill="#231f20" >4</text>
<text transform="translate(376.2,916.8) rotate(-90)" font-size="18" text-anchor="middle" font-weight="normal" fill="#231f20" >Survival (%)</text>
<text x="554.5" y="1050.6" font-size="18" text-anchor="middle" font-weight="normal" fill="#231f20" >HS-10160 (&#956;M)</text>
<polyline points="419.00,837.50 482.40,934.40 546.30,962.40 610.30,980.50 674.40,995.20" fill="none" stroke="#f6c89f" stroke-width="2.45" stroke-linejoin="round"/>
<path d="M482.40 931.00 V937.50 M479.20 931.00 H485.60 M479.20 937.50 H485.60" stroke="#f6c89f" stroke-width="2.45" fill="none"/>
<path d="M546.30 957.90 V966.90 M543.10 957.90 H549.50 M543.10 966.90 H549.50" stroke="#f6c89f" stroke-width="2.45" fill="none"/>
<path d="M610.30 977.00 V985.00 M607.10 977.00 H613.50 M607.10 985.00 H613.50" stroke="#f6c89f" stroke-width="2.45" fill="none"/>
<path d="M674.40 991.00 V999.00 M671.20 991.00 H677.60 M671.20 999.00 H677.60" stroke="#f6c89f" stroke-width="2.45" fill="none"/>
<path d="M419.00 834.08 L422.08 837.50 L419.00 840.92 L415.92 837.50 Z" fill="#f6c89f"/>
<path d="M482.40 930.98 L485.48 934.40 L482.40 937.82 L479.32 934.40 Z" fill="#f6c89f"/>
<path d="M546.30 958.98 L549.38 962.40 L546.30 965.82 L543.22 962.40 Z" fill="#f6c89f"/>
<path d="M610.30 977.08 L613.38 980.50 L610.30 983.92 L607.22 980.50 Z" fill="#f6c89f"/>
<path d="M674.40 991.78 L677.48 995.20 L674.40 998.62 L671.32 995.20 Z" fill="#f6c89f"/>
<polyline points="419.00,837.50 482.40,913.00 546.30,934.50 610.30,957.20 674.40,971.40" fill="none" stroke="#e22b24" stroke-width="2.45" stroke-linejoin="round"/>
<path d="M546.30 928.40 V939.80 M543.10 928.40 H549.50 M543.10 939.80 H549.50" stroke="#e22b24" stroke-width="2.45" fill="none"/>
<path d="M419.00 833.89 L422.61 840.21 L415.39 840.21 Z" fill="#e22b24"/>
<path d="M482.40 909.39 L486.01 915.71 L478.79 915.71 Z" fill="#e22b24"/>
<path d="M546.30 930.89 L549.91 937.21 L542.69 937.21 Z" fill="#e22b24"/>
<path d="M610.30 953.59 L613.91 959.91 L606.69 959.91 Z" fill="#e22b24"/>
<path d="M674.40 967.79 L678.01 974.11 L670.79 974.11 Z" fill="#e22b24"/>
<polyline points="419.00,837.50 482.40,865.00 546.30,876.40 610.30,894.00 674.40,970.80" fill="none" stroke="#62acdb" stroke-width="2.45" stroke-linejoin="round"/>
<path d="M482.40 839.40 V888.50 M479.20 839.40 H485.60 M479.20 888.50 H485.60" stroke="#62acdb" stroke-width="2.45" fill="none"/>
<path d="M546.30 867.30 V887.70 M543.10 867.30 H549.50 M543.10 887.70 H549.50" stroke="#62acdb" stroke-width="2.45" fill="none"/>
<path d="M610.30 880.20 V907.00 M607.10 880.20 H613.50 M607.10 907.00 H613.50" stroke="#62acdb" stroke-width="2.45" fill="none"/>
<path d="M674.40 965.80 V976.00 M671.20 965.80 H677.60 M671.20 976.00 H677.60" stroke="#62acdb" stroke-width="2.45" fill="none"/>
<rect x="415.44" y="833.94" width="7.12" height="7.12" fill="#62acdb"/>
<rect x="478.84" y="861.44" width="7.12" height="7.12" fill="#62acdb"/>
<rect x="542.74" y="872.84" width="7.12" height="7.12" fill="#62acdb"/>
<rect x="606.74" y="890.44" width="7.12" height="7.12" fill="#62acdb"/>
<rect x="670.84" y="967.24" width="7.12" height="7.12" fill="#62acdb"/>
<polyline points="419.00,837.50 482.40,849.00 546.30,860.10 610.30,872.50 674.40,962.00" fill="none" stroke="#0d0d0d" stroke-width="2.45" stroke-linejoin="round"/>
<path d="M482.40 836.00 V861.90 M479.20 836.00 H485.60 M479.20 861.90 H485.60" stroke="#0d0d0d" stroke-width="2.45" fill="none"/>
<path d="M546.30 853.30 V866.20 M543.10 853.30 H549.50 M543.10 866.20 H549.50" stroke="#0d0d0d" stroke-width="2.45" fill="none"/>
<path d="M610.30 867.30 V877.50 M607.10 867.30 H613.50 M607.10 877.50 H613.50" stroke="#0d0d0d" stroke-width="2.45" fill="none"/>
<path d="M674.40 959.00 V965.30 M671.20 959.00 H677.60 M671.20 965.30 H677.60" stroke="#0d0d0d" stroke-width="2.45" fill="none"/>
<circle cx="419.00" cy="837.50" r="3.23" fill="#0d0d0d"/>
<circle cx="482.40" cy="849.00" r="3.23" fill="#0d0d0d"/>
<circle cx="546.30" cy="860.10" r="3.23" fill="#0d0d0d"/>
<circle cx="610.30" cy="872.50" r="3.23" fill="#0d0d0d"/>
<circle cx="674.40" cy="962.00" r="3.23" fill="#0d0d0d"/>
<path d="M483.90 922.80 L483.90 918.90 M483.90 922.80 L487.61 921.59 M483.90 922.80 L486.19 925.96 M483.90 922.80 L481.61 925.96 M483.90 922.80 L480.19 921.59 " stroke="#231f20" stroke-width="1.25" fill="none"/><g fill="#231f20"><circle cx="483.90" cy="919.60" r="0.85"/><circle cx="486.94" cy="921.81" r="0.85"/><circle cx="485.78" cy="925.39" r="0.85"/><circle cx="482.02" cy="925.39" r="0.85"/><circle cx="480.86" cy="921.81" r="0.85"/></g>
<path d="M478.40 949.40 L478.40 945.50 M478.40 949.40 L482.11 948.19 M478.40 949.40 L480.69 952.56 M478.40 949.40 L476.11 952.56 M478.40 949.40 L474.69 948.19 " stroke="#231f20" stroke-width="1.25" fill="none"/><g fill="#231f20"><circle cx="478.40" cy="946.20" r="0.85"/><circle cx="481.44" cy="948.41" r="0.85"/><circle cx="480.28" cy="951.99" r="0.85"/><circle cx="476.52" cy="951.99" r="0.85"/><circle cx="475.36" cy="948.41" r="0.85"/></g>
<path d="M489.20 949.40 L489.20 945.50 M489.20 949.40 L492.91 948.19 M489.20 949.40 L491.49 952.56 M489.20 949.40 L486.91 952.56 M489.20 949.40 L485.49 948.19 " stroke="#231f20" stroke-width="1.25" fill="none"/><g fill="#231f20"><circle cx="489.20" cy="946.20" r="0.85"/><circle cx="492.24" cy="948.41" r="0.85"/><circle cx="491.08" cy="951.99" r="0.85"/><circle cx="487.32" cy="951.99" r="0.85"/><circle cx="486.16" cy="948.41" r="0.85"/></g>
</svg>
</body></html>
